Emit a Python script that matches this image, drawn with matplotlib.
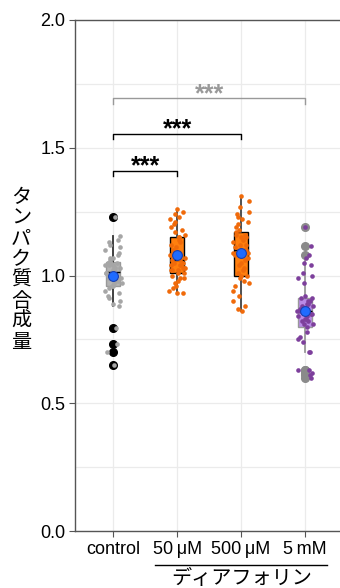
import numpy as np
import matplotlib
matplotlib.use("Agg")
import matplotlib.pyplot as plt
from matplotlib.ticker import MultipleLocator

plt.rcParams['font.family'] = ['Liberation Sans', 'Noto Sans CJK JP', 'DejaVu Sans']

categories = ["control", "50\u2009μM", "500\u2009μM", "5\u2009mM"]
group_label = "ディアフォリン"
ylabel = "タンパク質合成量"

control = [1.23, 1.155, 1.14, 1.13, 1.12, 1.11, 1.10, 1.09, 1.08, 1.07, 1.07, 1.06,
           0.95, 0.96, 0.96, 0.97, 0.97, 0.98, 0.98, 0.99, 0.99, 1.00, 1.00, 1.01, 1.01,
           1.02, 1.02, 1.03, 1.03, 1.03, 1.04, 1.04, 1.04, 1.05, 1.05, 1.05, 1.05,
           0.94, 0.93, 0.92, 0.91, 0.90, 0.89, 0.88, 0.795, 0.73, 0.70, 0.65]
dia_50uM = [1.26, 1.25, 1.24, 1.23, 1.22, 1.21, 1.20, 1.19, 1.18, 1.17, 1.16, 1.15, 1.15,
            1.14, 1.13, 1.12, 1.11, 1.10, 1.09, 1.08, 1.07, 1.06, 1.06, 1.05, 1.05, 1.04,
            1.04, 1.03, 1.03, 1.03, 1.02, 1.02, 1.02, 1.01, 1.01, 1.00, 0.99, 0.99, 0.98,
            0.97, 0.96, 0.95, 0.94, 0.93, 0.93]
dia_500uM = [0.86, 0.87, 0.88, 0.90, 0.92, 0.94, 0.96, 0.97, 0.98, 0.99, 1.00, 1.00, 1.01,
             1.02, 1.03, 1.04, 1.05, 1.06, 1.07, 1.08, 1.09, 1.09, 1.10, 1.10, 1.11, 1.12,
             1.12, 1.13, 1.14, 1.15, 1.15, 1.16, 1.16, 1.17, 1.18, 1.19, 1.20, 1.21, 1.22,
             1.23, 1.24, 1.25, 1.27, 1.29, 1.31]
dia_5mM = [1.19, 1.115, 1.08, 1.07, 1.05, 1.04, 1.01, 1.00, 0.99, 0.97,
           0.92, 0.91, 0.91, 0.90, 0.90, 0.89, 0.89, 0.88, 0.88, 0.87, 0.87, 0.86, 0.86,
           0.85, 0.85, 0.84, 0.84, 0.83, 0.83, 0.82, 0.82, 0.81, 0.81, 0.80,
           0.78, 0.76, 0.75, 0.74, 0.70, 0.70, 0.63, 0.63, 0.62, 0.61, 0.60]
groups = [control, dia_50uM, dia_500uM, dia_5mM]

# significance comparisons: (group a, group b, bracket height, label, color)
sig_pairs = [(0, 1, 1.41, "***", "black"),
             (0, 2, 1.555, "***", "black"),
             (0, 3, 1.695, "***", "#999999")]

box_face = ["#b3b3b3", "#ff7f0e", "#ff7f0e", "#b98ae6"]
box_edge = ["#999999", "black", "black", "#999999"]
whisk_col = ["#333333", "#444444", "#444444", "#999999"]
point_col = ["#a6a6a6", "#f06a0a", "#f06a0a", "#7d3f9c"]
flier_col = ["black", None, None, "#8a8a8a"]

fig = plt.figure(figsize=(3.4, 5.88), dpi=100)
ax = fig.add_axes([75/340, 1-531/588, 265/340, 511/588])

pos = np.arange(len(groups))
for i, g in enumerate(groups):
    fc = flier_col[i]
    ax.boxplot([g], positions=[pos[i]], widths=0.22, patch_artist=True,
               showcaps=False, zorder=2,
               boxprops=dict(facecolor=box_face[i], edgecolor=box_edge[i], linewidth=1.0),
               whiskerprops=dict(color=whisk_col[i], linewidth=1.3),
               medianprops=dict(color="black", linewidth=1.0),
               flierprops=dict(marker='o', markersize=5.5 if fc else 0,
                               markerfacecolor=fc if fc else 'none',
                               markeredgecolor=fc if fc else 'none'))

rng = np.random.default_rng(7)
for i, g in enumerate(groups):
    jit = rng.uniform(-0.13, 0.13, len(g))
    ax.scatter(pos[i] + jit, g, s=11, color=point_col[i], linewidths=0, zorder=3)
    ax.scatter([pos[i]], [np.mean(g)], s=50, color="#1f6bff", edgecolors="#1a3fb0",
               linewidths=0.8, zorder=5)

for a, b, h, lab, col in sig_pairs:
    ax.plot([pos[a], pos[a], pos[b], pos[b]], [h - 0.022, h, h, h - 0.022],
            color=col, linewidth=1.0, zorder=4)
    ax.text((pos[a] + pos[b]) / 2, h - 0.012, lab, ha='center', va='baseline',
            fontsize=18, color=col, fontweight='bold', family='Liberation Sans')

ax.set_xlim(-0.6, 3.55)
ax.set_ylim(0, 2.0)
ax.yaxis.set_minor_locator(MultipleLocator(0.25))
ax.set_yticks([0, 0.5, 1.0, 1.5, 2.0])
ax.set_yticklabels(["0.0", "0.5", "1.0", "1.5", "2.0"])
ax.set_xticks(pos)
ax.set_xticklabels(categories)
ax.grid(True, which='both', axis='y', color="#ebebeb", linewidth=0.9, zorder=0)
ax.grid(True, which='major', axis='x', color="#ebebeb", linewidth=0.9, zorder=0)
ax.set_axisbelow(True)
ax.tick_params(axis='y', which='minor', length=0)
ax.tick_params(axis='both', which='major', labelsize=13, length=4, color="#555555",
               labelcolor="black", pad=3)
for s in ['left', 'bottom', 'top']:
    ax.spines[s].set_color("#555555")
    ax.spines[s].set_linewidth(1.0)
ax.spines['right'].set_visible(False)

fig.text(21/340, 1-270/588, "\n".join(ylabel), ha='center', va='center',
         fontsize=14.5, linespacing=0.98, family=['Noto Sans CJK JP'])

# group label underline and text
fig.add_artist(plt.Line2D([155/340, 327/340], [1-565/588, 1-565/588],
                          color="black", linewidth=1.0))
fig.text(242/340, 1-578/588, group_label, ha='center', va='center', fontsize=14.5,
         family=['Noto Sans CJK JP'])

fig.savefig("out.png", dpi=100)
